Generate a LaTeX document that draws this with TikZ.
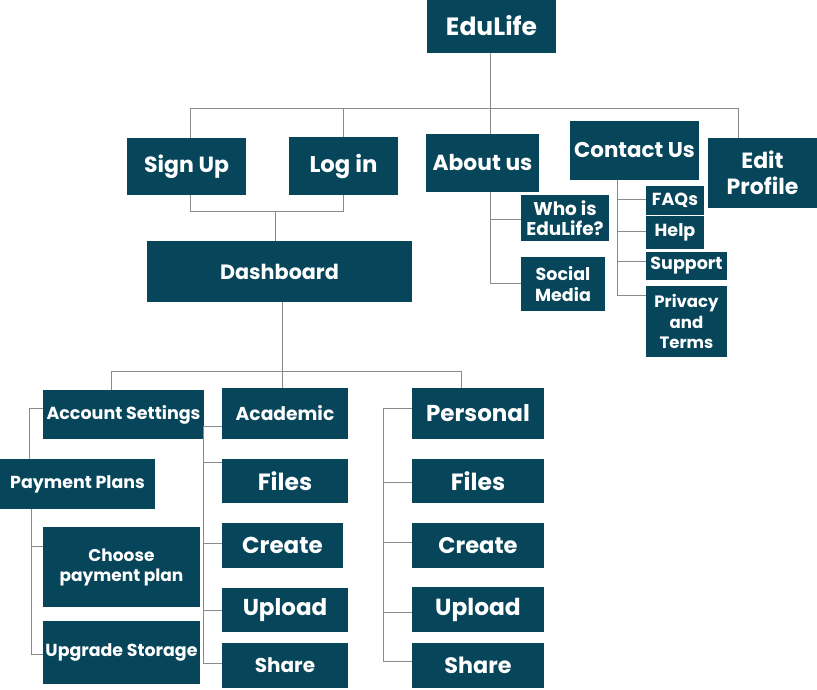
\documentclass[tikz,border=0pt]{standalone}
\usepackage{fontspec}
\setmainfont{Poppins}
\definecolor{boxfill}{HTML}{07455A}
\definecolor{linegray}{HTML}{8A8A8A}
\begin{document}
\begin{tikzpicture}[x=1pt,y=-1pt,
  box/.style={fill=boxfill,text=white,inner sep=0pt,align=center},
  fs/.style={font=\bfseries\fontsize{#1}{1.25em}\selectfont},
  conn/.style={draw=linegray,line width=1pt}]
\useasboundingbox (0,0) rectangle (817,689);
% top level
\node[box,fs=25,minimum width=129pt,minimum height=54pt] (edulife) at (491.5,26) {EduLife};
\node[box,fs=22,minimum width=119pt,minimum height=57pt] (signup) at (186.5,166.5) {Sign Up};
\node[box,fs=22.8,minimum width=109pt,minimum height=58pt] (login) at (343.5,166) {Log in};
\node[box,fs=20.7,minimum width=265pt,minimum height=61pt] (dashboard) at (279.5,271.5) {Dashboard};
\node[box,fs=21.8,minimum width=113pt,minimum height=58pt] (about) at (482.5,163) {About us};
\node[box,fs=21.4,minimum width=129pt,minimum height=59pt] (contact) at (634.5,150) {Contact Us};
\node[box,font=\bfseries\fontsize{22}{26}\selectfont,minimum width=109pt,minimum height=70pt] (edit) at (762.5,173) {Edit\\Profile};
% about children
\node[box,font=\bfseries\fontsize{18.5}{20.5}\selectfont,minimum width=88pt,minimum height=46pt] (who) at (565,218) {Who is\\EduLife?};
\node[box,font=\bfseries\fontsize{17.5}{21}\selectfont,minimum width=84pt,minimum height=54pt] (social) at (563,284) {Social\\Media};
% contact children
\node[box,fs=17.5,minimum width=58pt,minimum height=29pt] (faqs) at (675,200.5) {FAQs};
\node[box,fs=17.5,minimum width=58pt,minimum height=33pt] (help) at (675,232.5) {Help};
\node[box,fs=17.5,minimum width=81pt,minimum height=28pt] (support) at (686.5,266) {Support};
\node[box,font=\bfseries\fontsize{16.5}{20.5}\selectfont,minimum width=81pt,minimum height=71pt] (privacy) at (686.5,321.5) {Privacy\\and\\Terms};
% dashboard children
\node[box,fs=17.5,minimum width=161pt,minimum height=49pt] (account) at (123.5,414.5) {Account Settings};
\node[box,fs=18.7,minimum width=126pt,minimum height=51pt] (academic) at (285,413.5) {Academic};
\node[box,fs=23,minimum width=132pt,minimum height=51pt] (personal) at (478,413.5) {Personal};
% account children
\node[box,fs=17.4,minimum width=155pt,minimum height=50pt] (payment) at (77.5,484) {Payment Plans};
\node[box,font=\bfseries\fontsize{17}{20}\selectfont,minimum width=157pt,minimum height=80pt] (choose) at (121.5,567) {Choose\\payment plan};
\node[box,fs=17.4,minimum width=157pt,minimum height=63pt] (upgrade) at (121.5,652.5) {Upgrade Storage};
% academic children
\node[box,fs=23.5,minimum width=126pt,minimum height=44pt] (afiles) at (285,481) {Files};
\node[box,fs=23,minimum width=121pt,minimum height=45pt] (acreate) at (282.5,545.5) {Create};
\node[box,fs=23,minimum width=126pt,minimum height=44pt] (aupload) at (285,610) {Upload};
\node[box,fs=20,minimum width=126pt,minimum height=45pt] (ashare) at (285,665.5) {Share};
% personal children
\node[box,fs=23.5,minimum width=132pt,minimum height=44pt] (pfiles) at (478,481) {Files};
\node[box,fs=22.6,minimum width=132pt,minimum height=45pt] (pcreate) at (478,545.5) {Create};
\node[box,fs=23.3,minimum width=132pt,minimum height=45pt] (pupload) at (478,609.5) {Upload};
\node[box,fs=22.3,minimum width=132pt,minimum height=45pt] (pshare) at (478,665.5) {Share};
% bus coordinates
\coordinate (bT) at (0,108);
\coordinate (bS) at (0,211);
\coordinate (bD) at (0,371);
% connectors top
\draw[conn] ([xshift=-1.5pt]edulife.south) -- ([xshift=7.5pt]about.north);
\draw[conn] ([xshift=3.5pt]signup.north) |- ([xshift=-24.5pt]edit.north |- bT) -- ([xshift=-24.5pt]edit.north);
\draw[conn] (login.north) -- (login.north |- bT);
\draw[conn] ([xshift=3.5pt]signup.south) |- (login.south |- bS) -- (login.south);
\draw[conn] ([xshift=-4.5pt]dashboard.north |- bS) -- ([xshift=-4.5pt]dashboard.north);
% about children
\draw[conn] ([xshift=7.5pt]about.south) |- ([yshift=-1pt]who.west);
\draw[conn] ([xshift=7.5pt]about.south) |- ([yshift=1pt]social.west);
% contact children
\draw[conn] ([xshift=-17.5pt]contact.south) |- ([yshift=1.5pt]faqs.west);
\draw[conn] ([xshift=-17.5pt]contact.south) |- ([yshift=1.5pt]help.west);
\draw[conn] ([xshift=-17.5pt]contact.south) |- ([yshift=5pt]support.west);
\draw[conn] ([xshift=-17.5pt]contact.south) |- ([yshift=26.5pt]privacy.west);
% dashboard children
\draw[conn] ([xshift=2.5pt]dashboard.south) -- ([xshift=-3pt]academic.north);
\draw[conn] ([xshift=-12.5pt]account.north) |- ([xshift=-17pt]personal.north |- bD) -- ([xshift=-17pt]personal.north);
% account children
\draw[conn] ([yshift=6.5pt]account.west) -| ([xshift=-48.5pt]payment.north);
\draw[conn] ([xshift=-46.5pt]payment.south) |- ([yshift=21pt]choose.west);
\draw[conn] ([xshift=-46.5pt]payment.south) |- ([yshift=-1.5pt]upgrade.west);
% academic children
\draw[conn] ([yshift=-12.5pt]academic.west) -- ++(-18,0) coordinate (ast) |- ([yshift=2.5pt]ashare.west);
\draw[conn] (ast) |- ([yshift=19pt]afiles.west);
\draw[conn] (ast) |- ([yshift=2.5pt]acreate.west);
\draw[conn] (ast) |- (aupload.west);
% personal children
\draw[conn] ([yshift=5.5pt]personal.west) -- ++(-28,0) coordinate (pst) |- ([yshift=4.5pt]pshare.west);
\draw[conn] (pst) |- ([yshift=-1pt]pfiles.west);
\draw[conn] (pst) |- ([yshift=3.5pt]pcreate.west);
\draw[conn] (pst) |- ([yshift=-2.5pt]pupload.west);
\end{tikzpicture}
\end{document}
